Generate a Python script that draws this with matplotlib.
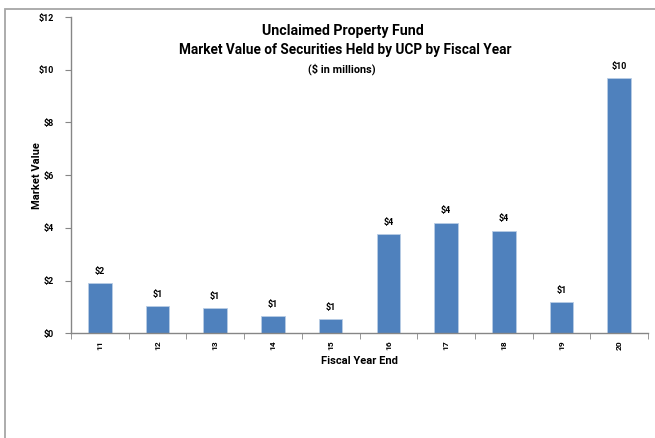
import matplotlib
matplotlib.use("Agg")
import matplotlib.pyplot as plt
from matplotlib.patches import Rectangle
import numpy as np

years = ["11", "12", "13", "14", "15", "16", "17", "18", "19", "20"]
values = [1.90, 1.05, 0.95, 0.65, 0.53, 3.77, 4.20, 3.90, 1.19, 9.70]
labels = ["$2", "$1", "$1", "$1", "$1", "$4", "$4", "$4", "$1", "$10"]
yticks = [0, 2, 4, 6, 8, 10, 12]

plt.rcParams['font.family'] = ['Roboto', 'DejaVu Sans']

fig = plt.figure(figsize=(6.55, 4.38), dpi=100)
# outer frame (cropped chart area)
fig.patches.append(Rectangle((5/655, -0.05), 1.2, 0.05 + (1 - 9/438), transform=fig.transFigure,
                             fill=False, edgecolor="#a6a6a6", linewidth=1.3))

ax = fig.add_axes([71/655, 1 - 333.3/438, (648 - 71)/655, (333.3 - 17)/438])
x = np.arange(len(years))
ax.bar(x, values, width=0.41, color="#4F81BD", edgecolor="#b9cde5", linewidth=0.6, zorder=2)
for xi, v, lab in zip(x, values, labels):
    ax.text(xi, v + 0.27, lab, ha="center", va="bottom", fontsize=6.5, fontweight="bold")

ax.set_xlim(-0.5, len(years) - 0.5)
ax.set_ylim(0, 12)
ax.set_yticks(yticks)
ax.set_yticklabels([f"${t}" for t in yticks], fontsize=6.5, fontweight="bold")
ax.set_xticks(x)
ax.set_xticklabels(years, rotation=90, fontsize=6, fontweight="bold")
ax.set_xticks(np.arange(-0.5, len(years)), minor=True)
ax.tick_params(axis="x", which="major", length=0, pad=5)
ax.tick_params(axis="x", which="minor", length=4, color="#868686", direction="out")
ax.tick_params(axis="y", length=4, color="#868686", direction="out", pad=8)
for s in ["top", "right"]:
    ax.spines[s].set_visible(False)
for s in ["left", "bottom"]:
    ax.spines[s].set_color("#868686")
    ax.spines[s].set_linewidth(1.0)

ax.set_xlabel("Fiscal Year End", fontsize=8, fontweight="bold")
ax.xaxis.set_label_coords(0.5, -(361 - 333.3) / (333.3 - 17), transform=ax.transAxes)
ax.xaxis.label.set_va("center")
ax.set_ylabel("Market Value", fontsize=8, fontweight="bold")
ax.yaxis.set_label_coords((37 - 71) / (648 - 71), 0.5, transform=ax.transAxes)
ax.yaxis.label.set_va("center")

fig.text(343/655, 1 - 31/438, "Unclaimed Property Fund", ha="center", va="center",
         fontsize=10.2, fontweight="bold")
fig.text(345/655, 1 - 50/438, "Market Value of Securities Held by UCP by Fiscal Year", ha="center",
         va="center", fontsize=9.8, fontweight="bold")
fig.text(342/655, 1 - 69/438, "($ in millions)", ha="center", va="center",
         fontsize=7.8, fontweight="bold")

fig.savefig("out.png", dpi=100)
